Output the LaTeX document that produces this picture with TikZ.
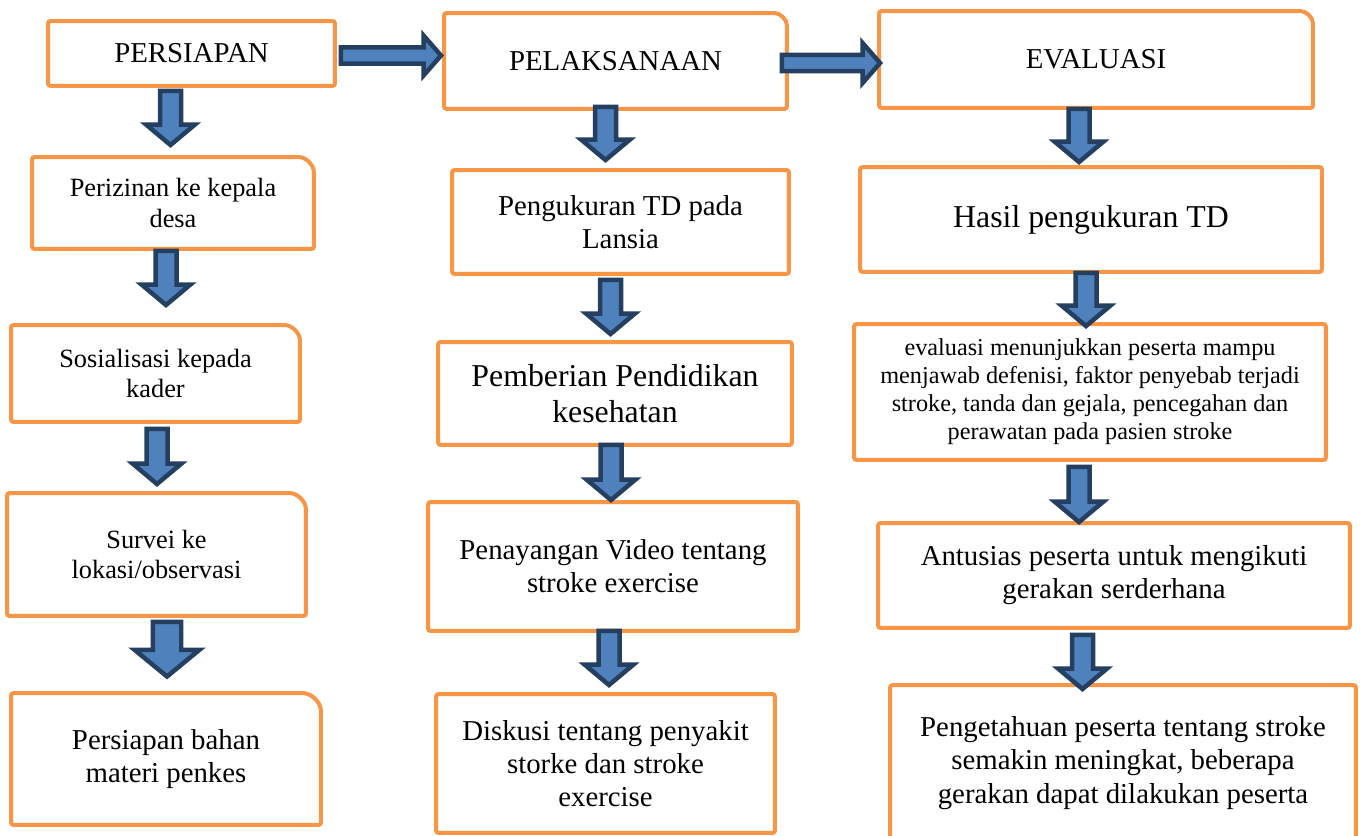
\documentclass[tikz,border=0pt]{standalone}
\usepackage{fontspec}
\setmainfont{Liberation Serif}
\usetikzlibrary{calc}

\definecolor{boxorange}{HTML}{F79646}
\definecolor{flowblue}{HTML}{4F81BD}
\definecolor{flowdark}{HTML}{243F60}

% sizes of the block arrows
\newcommand{\shaftw}{0.21cm}
\newcommand{\headw}{0.49cm}
\newcommand{\headl}{0.41cm}
\newcommand{\hshaftw}{0.165cm}
\newcommand{\hheadw}{0.4cm}
\newcommand{\hheadl}{0.35cm}

\tikzset{
  box/.style={draw=boxorange, line width=0.08cm, rounded corners=1.5pt, fill=white,
    align=center, inner sep=0pt, outer sep=0pt},
  tabbox/.style={box, draw=none},
  tabline/.style={draw=boxorange, line width=0.08cm, rounded corners=1.5pt},
  f24/.style={font=\fontsize{13.8pt}{15.9pt}\selectfont},
  f26/.style={font=\fontsize{15pt}{17.3pt}\selectfont},
  f29/.style={font=\fontsize{16.4pt}{18.9pt}\selectfont},
  f32/.style={font=\fontsize{18.1pt}{20.8pt}\selectfont},
  flow/.style={draw=flowdark, fill=flowblue, line width=0.09cm, line join=miter},
  bigflow/.code={\renewcommand{\shaftw}{0.285cm}\renewcommand{\headw}{0.65cm}\renewcommand{\headl}{0.535cm}},
  flowdown/.style={flow, to path={let \p1=(\tikztostart), \p2=(\tikztotarget) in
    (\x1-\shaftw,\y1) -- (\x1-\shaftw,\y2+\headl) -- (\x1-\headw,\y2+\headl) -- (\x1,\y2)
    -- (\x1+\headw,\y2+\headl) -- (\x1+\shaftw,\y2+\headl) -- (\x1+\shaftw,\y1) -- cycle}},
  flowright/.style={flow, to path={let \p1=(\tikztostart), \p2=(\tikztotarget) in
    (\x1,\y1-\hshaftw) -- (\x2-\hheadl,\y1-\hshaftw) -- (\x2-\hheadl,\y1-\hheadw) -- (\x2,\y1)
    -- (\x2-\hheadl,\y1+\hheadw) -- (\x2-\hheadl,\y1+\hshaftw) -- (\x1,\y1+\hshaftw) -- cycle}},
}

\begin{document}
\begin{tikzpicture}[x=0.02cm, y=-0.02cm]
\useasboundingbox (0,0) rectangle (1365,835);

% Persiapan
\node[box, f29, minimum width=5.74cm, minimum height=1.30cm] (persiapan) at (191.5,53.5) {PERSIAPAN};
\node[tabbox, f26, minimum width=5.64cm, minimum height=1.84cm] (perizinan) at (173,203) {Perizinan ke kepala\\desa};
\node[tabbox, f26, minimum width=5.78cm, minimum height=1.94cm] (sosialisasi) at (155.5,373.5) {Sosialisasi kepada\\kader};
\node[tabbox, f26, minimum width=5.98cm, minimum height=2.46cm] (survei) at (156.5,554.5) {Survei ke\\lokasi/observasi};
\node[tabbox, f29, minimum width=6.20cm, minimum height=2.64cm] (bahan) at (166,759) {Persiapan bahan\\materi penkes};

% Pelaksanaan
\node[tabbox, f29, minimum width=6.86cm, minimum height=1.92cm] (pelaksanaan) at (615.5,61) {PELAKSANAAN};
\node[box, f29, minimum width=6.74cm, minimum height=2.08cm] (pengukuran) at (620.5,222) {Pengukuran TD pada\\Lansia};
\node[box, f32, minimum width=7.08cm, minimum height=2.06cm] (pemberian) at (615,393.5) {Pemberian Pendidikan\\kesehatan};
\node[box, f29, minimum width=7.40cm, minimum height=2.58cm] (penayangan) at (613,566.5) {Penayangan Video tentang\\stroke exercise};
\node[box, f29, minimum width=6.78cm, minimum height=2.78cm] (diskusi) at (605.5,763.5) {Diskusi tentang penyakit\\storke dan stroke\\exercise};

% Evaluasi
\node[tabbox, f29, minimum width=8.68cm, minimum height=1.94cm] (evaluasi) at (1096,59.5) {EVALUASI};
\node[box, f32, minimum width=9.24cm, minimum height=2.10cm] (hasil) at (1091,219.5) {Hasil pengukuran TD};
\node[box, f24, minimum width=9.44cm, minimum height=2.72cm] (kesimpulan) at (1090,392) {evaluasi menunjukkan peserta mampu\\menjawab defenisi, faktor penyebab terjadi\\stroke, tanda dan gejala, pencegahan dan\\perawatan pada pasien stroke};
\node[box, f29, minimum width=9.44cm, minimum height=2.10cm] (antusias) at (1114,575.5) {Antusias peserta untuk mengikuti\\gerakan serderhana};
\node[box, f29, minimum width=9.32cm, minimum height=3.12cm] (pengetahuan) at (1123,763) {Pengetahuan peserta tentang stroke\\semakin meningkat, beberapa\\gerakan dapat dilakukan peserta};

% Outlines with one rounded corner
\foreach \n/\r in {perizinan/0.36, sosialisasi/0.36, survei/0.38, bahan/0.42, pelaksanaan/0.3, evaluasi/0.3}
  \draw[tabline] (\n.south west) -- (\n.north west) -- ($(\n.north east)+(-\r cm,0)$)
    arc[start angle=90, end angle=0, radius=\r cm] -- (\n.south east) -- cycle;

% Arrows between the stages
\draw[flowright] ($(persiapan.east)+(6,2)$) to ($(pelaksanaan.west)+(-3,0)$);
\draw[flowright] ($(pelaksanaan.east)+(-5,2)$) to ($(evaluasi.west)+(1,0)$);

% Arrows down the columns
\draw[flowdown] ($(persiapan.south)+(-21,5)$) to ($(perizinan.north)+(0,-12)$);
\draw[flowdown] ($(perizinan.south)+(-7,2)$) to ($(sosialisasi.north)+(0,-20)$);
\draw[flowdown] ($(sosialisasi.south)+(1.5,7)$) to ($(survei.north)+(0,-9)$);
\draw[flowdown, bigflow] ($(survei.south)+(10.5,6)$) to ($(bahan.north)+(0,-16.5)$);

\draw[flowdown] ($(pelaksanaan.south)+(-10,-2)$) to ($(pengukuran.north)+(0,-10)$);
\draw[flowdown] ($(pengukuran.south)+(-10,6)$) to ($(pemberian.north)+(0,-8)$);
\draw[flowdown] ($(pemberian.south)+(-4,0)$) to ($(penayangan.north)+(0,-2)$);
\draw[flowdown] ($(penayangan.south)+(-4,0)$) to ($(diskusi.north)+(0,-9)$);

\draw[flowdown] ($(evaluasi.south)+(-17,1)$) to ($(hasil.north)+(0,-5)$);
\draw[flowdown] ($(hasil.south)+(-5,1)$) to ($(kesimpulan.north)+(0,2)$);
\draw[flowdown] ($(kesimpulan.south)+(-11,7)$) to ($(antusias.north)+(0,-1)$);
\draw[flowdown] ($(antusias.south)+(-31.5,7)$) to ($(pengetahuan.north)+(0,4)$);
\end{tikzpicture}
\end{document}
